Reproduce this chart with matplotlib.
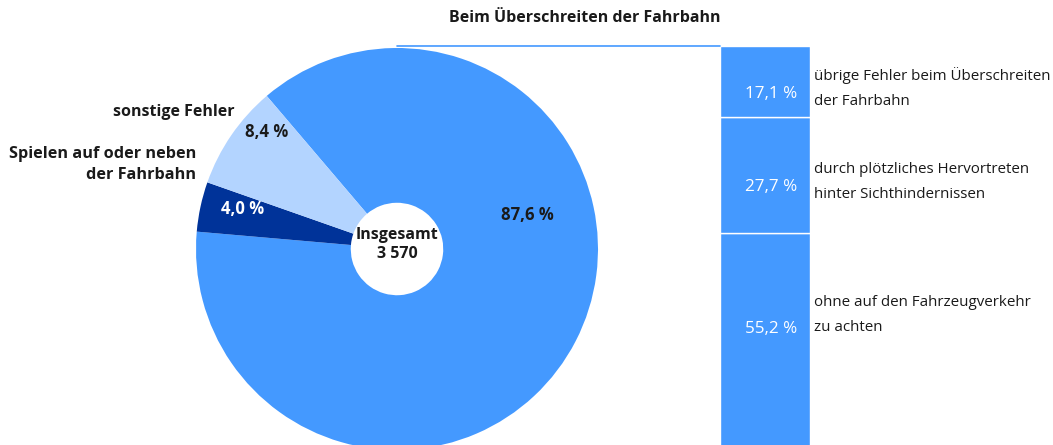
import matplotlib.pyplot as plt
from matplotlib.patches import ConnectionPatch

# pie data (Insgesamt 3 570)
pie_values = [87.6, 4.0, 8.4]
pie_labels = ["", "Spielen auf oder neben\nder Fahrbahn", "sonstige Fehler"]
pie_texts = ["87,6 %", "4,0 %", "8,4 %"]
total_text = "Insgesamt\n3 570"

# breakdown of the 87.6 % slice (bottom to top)
bar_values = [55.2, 27.7, 17.1]
bar_texts = ["55,2 %", "27,7 %", "17,1 %"]
bar_labels = ["ohne auf den Fahrzeugverkehr\nzu achten",
              "durch plötzliches Hervortreten\nhinter Sichthindernissen",
              "übrige Fehler beim Überschreiten\nder Fahrbahn"]
title = "Beim Überschreiten der Fahrbahn"

blue = "#4499FF"
navy = "#003399"
light = "#B3D4FF"
dark_text = "#1a1a1a"

plt.rcParams["font.family"] = ["Open Sans", "DejaVu Sans"]

W, H = 1053, 445
fig = plt.figure(figsize=(W / 100, H / 100), dpi=100)

# pie axes: centre (397, 249) px, radius 201 px
cx, cy, r = 397, 249, 201
ax_pie = fig.add_axes([(cx - r) / W, (H - cy - r) / H, 2 * r / W, 2 * r / H])
wedges, _ = ax_pie.pie(pie_values, colors=[blue, navy, light], startangle=130.4,
                       counterclock=False, radius=1,
                       wedgeprops=dict(width=0.77, linewidth=0))
ax_pie.set_xlim(-1, 1)
ax_pie.set_ylim(-1, 1)
ax_pie.set_aspect("auto")
ax_pie.axis("off")

ax_pie.text(0, 0.02, total_text, ha="center", va="center", fontsize=11.5,
            fontweight="bold", color=dark_text, linespacing=1.25)

# percentage labels inside wedges
pct_pos = [(0.65, 0.17), (-0.77, 0.20), (-0.65, 0.58)]
pct_colors = [dark_text, "white", dark_text]
for (x, y), t, c in zip(pct_pos, pie_texts, pct_colors):
    ax_pie.text(x, y, t, ha="center", va="center", fontsize=12,
                fontweight="bold", color=c)

ax_pie.text(-0.81, 0.68, pie_labels[2], ha="right", va="center", fontsize=11.5,
            fontweight="bold", color=dark_text)
ax_pie.text(-1.0, 0.42, pie_labels[1], ha="right", va="center", fontsize=11.7,
            fontweight="bold", color=dark_text, linespacing=1.45)

# stacked bar
bar_top, bar_h = 46, 418
ax_bar = fig.add_axes([720 / W, (H - bar_top - bar_h) / H, 90 / W, bar_h / H])
bottom = 0
centers = []
for v in bar_values:
    ax_bar.bar(0, v, bottom=bottom, width=1, color=blue, edgecolor="white",
               linewidth=1)
    centers.append(bottom + v / 2)
    bottom += v
ax_bar.set_xlim(-0.5, 0.5)
ax_bar.set_ylim(0, 100)
ax_bar.axis("off")

value_shift = [4.7, -2.9, -3.0]
label_shift = [8.0, -1.6, -1.5]
for c, dv, dl, t, lab in zip(centers, value_shift, label_shift, bar_texts, bar_labels):
    ax_bar.text(0.36, c + dv, t, ha="right", va="center", fontsize=12.3,
                color="white")
    ax_bar.text(0.54, c + dl, lab, ha="left", va="center", fontsize=10.9,
                color=dark_text, linespacing=1.95)

# connector from pie top to bar top
con = ConnectionPatch(xyA=(0, 1.01), coordsA=ax_pie.transData,
                      xyB=(-0.5, 100), coordsB=ax_bar.transData,
                      color=blue, linewidth=1.2)
fig.add_artist(con)

fig.text(585 / W, 1 - 18 / H, title, ha="center", va="center", fontsize=11.5,
         fontweight="bold", color=dark_text)

fig.savefig("out.png", dpi=100, facecolor="white")
